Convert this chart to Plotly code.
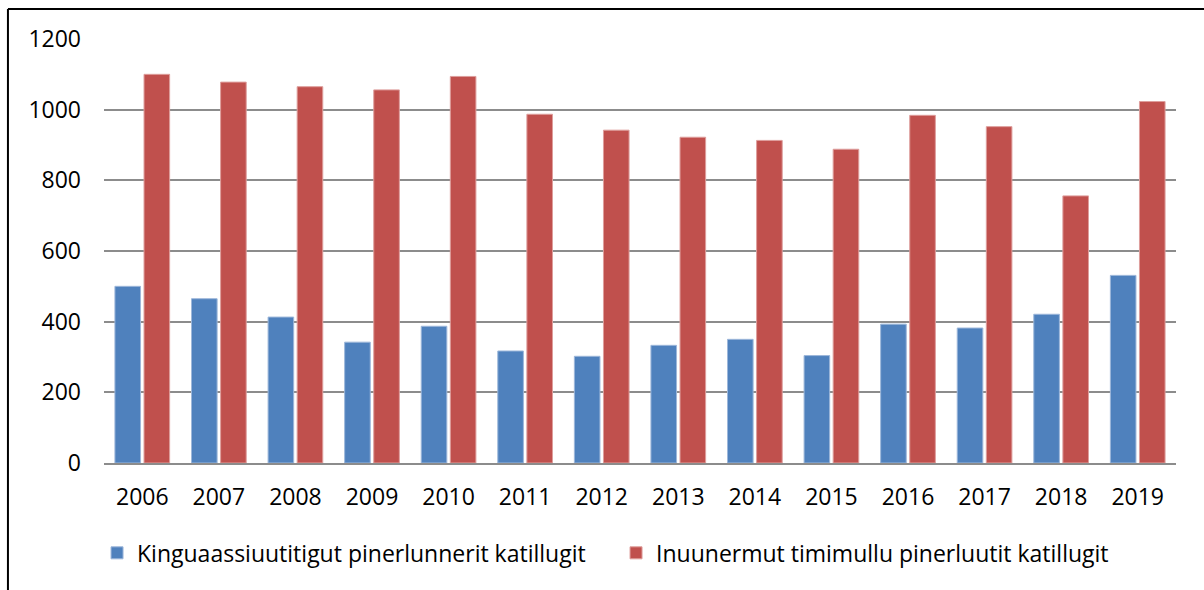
import plotly.graph_objects as go

years = ["2006", "2007", "2008", "2009", "2010", "2011", "2012",
         "2013", "2014", "2015", "2016", "2017", "2018", "2019"]
blue_values = [500, 465, 413, 342, 387, 317, 302, 333, 350, 304, 393, 382, 421, 531]
red_values = [1100, 1078, 1065, 1056, 1094, 987, 942, 922, 913, 888, 984, 952, 756, 1023]
blue_name = "Kinguaassiuutitigut pinerlunnerit katillugit"
red_name = "Inuunermut timimullu pinerluutit katillugit"
y_ticks = [0, 200, 400, 600, 800, 1000, 1200]

FONT = "Open Sans"

fig = go.Figure()
fig.add_trace(go.Bar(x=years, y=blue_values, name=blue_name,
                     marker=dict(color="#4F81BD", line=dict(color="#9DB7DA", width=1))))
fig.add_trace(go.Bar(x=years, y=red_values, name=red_name,
                     marker=dict(color="#C0504D", line=dict(color="#DE9E9C", width=1))))

fig.update_layout(
    width=1204, height=590,
    margin=dict(l=104, r=28, t=39, b=127),
    paper_bgcolor="white", plot_bgcolor="white",
    barmode="group", bargap=0.24, bargroupgap=0.12,
    font=dict(family=FONT, size=23, color="black"),
    showlegend=True,
    legend=dict(orientation="h", x=-0.0065, xanchor="left", y=-0.212, yanchor="middle",
                font=dict(family=FONT, size=23), itemwidth=30, traceorder="normal",
                entrywidth=474, entrywidthmode="pixels"),
    xaxis=dict(showgrid=False, showline=True, linecolor="#8C8C8C", linewidth=2,
               ticks="", ticklabelstandoff=12, tickfont=dict(size=23)),
    yaxis=dict(range=[0, 1200], tickvals=y_ticks, showgrid=True, gridcolor="#8C8C8C",
               gridwidth=1.5, zeroline=False, showline=False, ticks="",
               ticklabelstandoff=22, tickfont=dict(size=23)),
    shapes=[
        dict(type="line", xref="paper", yref="paper", x0=-0.0896, x1=-0.0896,
             y0=1.0708, y1=-0.32, line=dict(color="black", width=2)),
        dict(type="line", xref="paper", yref="paper", x0=-0.0896, x1=1.05,
             y0=1.0708, y1=1.0708, line=dict(color="black", width=2)),
    ],
)

fig.write_html("out.html", config={"displayModeBar": False},
               post_script="document.body.style.margin='0px';document.body.style.overflow='hidden';")
